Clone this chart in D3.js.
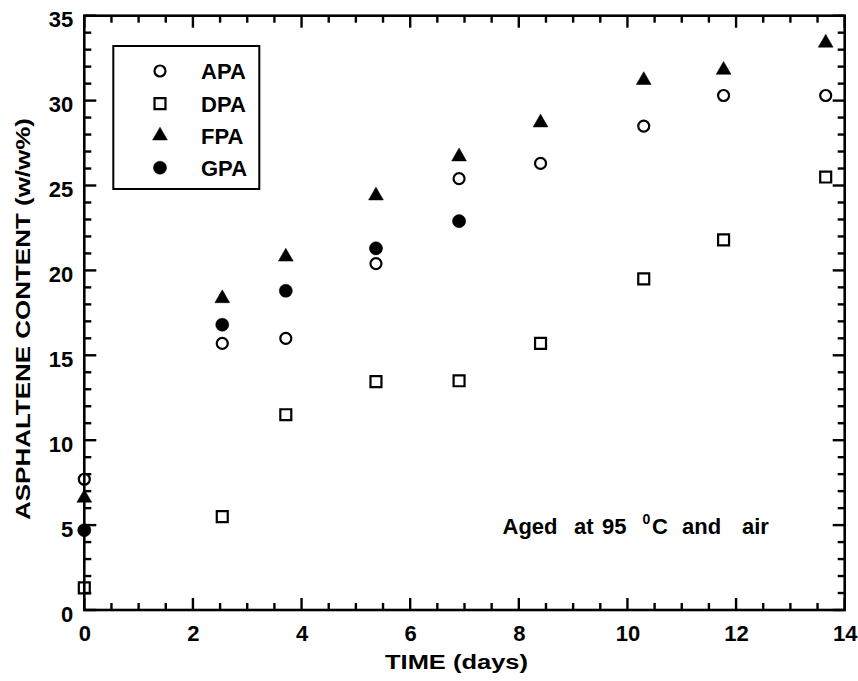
<!DOCTYPE html>
<html>
<head>
<meta charset="utf-8">
<script src="https://cdn.jsdelivr.net/npm/d3@7"></script>
<style>
  html, body { margin: 0; padding: 0; background: #fff; }
  svg { display: block; }
  text { font-family: "Liberation Sans", Arial, Helvetica, sans-serif; font-weight: bold; fill: #000; }
</style>
</head>
<body>
<svg id="chart" width="858" height="681"></svg>
<script>
// ---- data ----
const days = [0, 2.54, 3.71, 5.37, 6.90, 8.40, 10.30, 11.77, 13.65];
const APA = [7.7, 15.7, 16.0, 20.4, 25.4, 26.3, 28.5, 30.3, 30.3];
const DPA = [1.3, 5.5, 11.5, 13.45, 13.5, 15.7, 19.5, 21.8, 25.5];
const FPA = [6.6, 18.35, 20.8, 24.4, 26.7, 28.7, 31.2, 31.8, 33.4];
const GPA = [4.7, 16.8, 18.8, 21.3, 22.9];
const seriesNames = ["APA", "DPA", "FPA", "GPA"];
const xTicks = [0, 2, 4, 6, 8, 10, 12, 14];
const yTicks = [0, 5, 10, 15, 20, 25, 30, 35];
const xLabel = "TIME  (days)";
const yLabel = "ASPHALTENE  CONTENT  (w/w%)";

const svg = d3.select("#chart");
const x = d3.scaleLinear().domain([0, 14]).range([84.3, 844.7]);
const y = d3.scaleLinear().domain([0, 35]).range([610, 15.7]);

const xMinor = d3.range(0, 14.01, 0.5).filter(v => !xTicks.includes(v));
const yMinor = d3.range(0, 35.01, 1).filter(v => !yTicks.includes(v));

// symbols
const sym = {
  APA: { type: d3.symbolCircle, size: 95, fill: "#fff" },
  DPA: { type: d3.symbolSquare, size: 120, fill: "#fff" },
  FPA: { type: d3.symbolTriangle, size: 95, fill: "#000" },
  GPA: { type: d3.symbolCircle, size: 135, fill: "#000" }
};
const values = { APA, DPA, FPA, GPA };

seriesNames.forEach(name => {
  const s = sym[name];
  const pts = values[name].map((v, i) => ({ t: days[i], v }));
  svg.append("g").attr("class", "series").selectAll("path").data(pts).join("path")
    .attr("transform", d => `translate(${x(d.t)},${y(d.v)})`)
    .attr("d", d3.symbol().type(s.type).size(s.size))
    .style("fill", s.fill)
    .style("stroke", "#000")
    .style("stroke-width", s.fill === "#fff" ? "2.2px" : "0.5px");
});

// legend
const lg = svg.append("g");
lg.append("rect").attr("x", 113.3).attr("y", 46).attr("width", 146).attr("height", 143)
  .style("fill", "#fff").style("stroke", "#000").style("stroke-width", "2px");
const rowY = [71, 103.7, 135.7, 167.7];
seriesNames.forEach((name, i) => {
  const s = sym[name];
  lg.append("path")
    .attr("transform", `translate(160,${rowY[i]})`)
    .attr("d", d3.symbol().type(s.type).size(s.size))
    .style("fill", s.fill).style("stroke", "#000")
    .style("stroke-width", s.fill === "#fff" ? "2.2px" : "0.5px");
  lg.append("text").attr("x", 201).attr("y", rowY[i] + 8)
    .style("font-size", "22px").text(name);
});

// annotation
const ann = svg.append("text").attr("y", 533.5).style("font-size", "22px");
ann.append("tspan").attr("x", 502.5).text("Aged");
ann.append("tspan").attr("x", 574).text("at");
ann.append("tspan").attr("x", 602).text("95");
ann.append("tspan").attr("x", 642.5).attr("dy", -10).style("font-size", "14px").text("0");
ann.append("tspan").attr("x", 652).attr("dy", 10).text("C");
ann.append("tspan").attr("x", 682).text("and");
ann.append("tspan").attr("x", 742).text("air");

// axis titles
svg.append("text").attr("x", 385).attr("y", 668.5)
  .attr("textLength", 143).attr("lengthAdjust", "spacingAndGlyphs")
  .style("font-size", "20px").text(xLabel);
svg.append("text")
  .attr("transform", "translate(30,319) rotate(-90)")
  .attr("text-anchor", "middle")
  .attr("textLength", 402).attr("lengthAdjust", "spacingAndGlyphs")
  .style("font-size", "20px").text(yLabel);

// tick labels via d3 axes (lines hidden), then frame + ticks drawn explicitly from the scales
const gx = svg.append("g").attr("transform", `translate(0,${y(0)})`)
  .call(d3.axisBottom(x).tickValues(xTicks).tickSize(0).tickPadding(15.5).tickFormat(d3.format("d")));
gx.select(".domain").remove();
gx.selectAll(".tick text").style("font-size", "22px").attr("dy", "0.71em");
const gy = svg.append("g").attr("transform", `translate(${x(0)},0)`)
  .call(d3.axisLeft(y).tickValues(yTicks).tickSize(0).tickPadding(11).tickFormat(d3.format("d")));
gy.select(".domain").remove();
gy.selectAll(".tick text").style("font-size", "22px").attr("dy", "0.5em");

const frame = svg.append("g").attr("class", "frame");
frame.append("rect")
  .attr("x", x(0)).attr("y", y(35))
  .attr("width", x(14) - x(0)).attr("height", y(0) - y(35))
  .style("fill", "none").style("stroke", "#000").style("stroke-width", "2.6px");

const xt = [...xTicks.map(v => ({ v, len: 12 })), ...xMinor.map(v => ({ v, len: 7 }))];
const yt = [...yTicks.map(v => ({ v, len: 12 })), ...yMinor.map(v => ({ v, len: 7 }))];
function tickLines(data, make) {
  frame.append("g").selectAll("line").data(data).join("line")
    .each(function (d) { const c = make(d); d3.select(this).attr("x1", c[0]).attr("y1", c[1]).attr("x2", c[2]).attr("y2", c[3]); })
    .style("stroke", "#000").style("stroke-width", "2.4px");
}
tickLines(xt, d => [x(d.v), y(0), x(d.v), y(0) - d.len]);
tickLines(xt, d => [x(d.v), y(35), x(d.v), y(35) + d.len]);
tickLines(yt, d => [x(0), y(d.v), x(0) + d.len, y(d.v)]);
tickLines(yt, d => [x(14), y(d.v), x(14) - d.len, y(d.v)]);
</script>
</body>
</html>
